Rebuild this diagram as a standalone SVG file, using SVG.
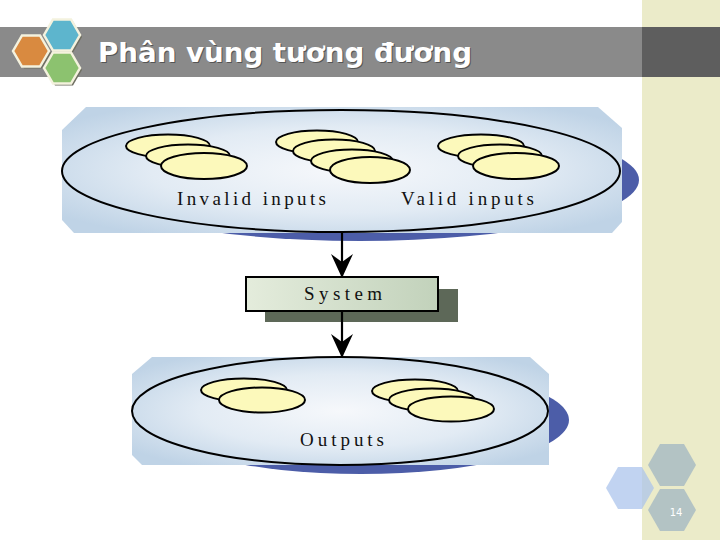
<svg xmlns="http://www.w3.org/2000/svg" width="720" height="540" viewBox="0 0 720 540">
<defs>
<style>
.title{font-family:"DejaVu Sans Condensed","DejaVu Sans","Liberation Sans",sans-serif;font-weight:bold;font-size:27px;}
.lbl{font-family:"Liberation Serif","Times New Roman",serif;font-size:19px;fill:#111;}
.pill{fill:#fcf9bb;stroke:#000;stroke-width:2;}
.outer{fill:none;stroke:#000;stroke-width:2;}
.shadow{fill:#4c5da8;}
.hexs{fill:#6f6f62;}
.hexw{stroke:#f4f2de;stroke-width:2.5;}
.conn{stroke:#000;stroke-width:2.2;fill:none;marker-end:url(#arr);}
</style>
<radialGradient id="bg" cx="50%" cy="50%" r="62%">
<stop offset="0" stop-color="#f6f8fb"/>
<stop offset="0.55" stop-color="#e2ebf4"/>
<stop offset="1" stop-color="#bfd3e6"/>
</radialGradient>
<linearGradient id="sys" x1="0" y1="0" x2="1" y2="0">
<stop offset="0" stop-color="#e4ecdc"/>
<stop offset="1" stop-color="#c2d2bb"/>
</linearGradient>
<marker id="arr" viewBox="0 0 24 24" refX="24" refY="12" markerWidth="24" markerHeight="24" markerUnits="userSpaceOnUse" orient="auto">
<path d="M0,1 L24,12 L0,23 L8,12 Z" fill="#000"/>
</marker>
</defs>

<rect x="0" y="0" width="720" height="540" fill="#ffffff"/>
<rect x="642" y="0" width="78" height="540" fill="#ebebc9"/>

<g id="title-bar">
<rect x="0" y="27" width="642" height="50" fill="#8a8a8a"/>
<rect x="642" y="27" width="78" height="50" fill="#5e5e5e"/>
<g id="logo">
<polygon class="hexs" points="15,53 24,37.4 42,37.4 51,53 42,68.6 24,68.6"/>
<polygon class="hexs" points="46,37 55,21.4 73,21.4 82,37 73,52.6 55,52.6"/>
<polygon class="hexs" points="46,70 55,54.4 73,54.4 82,70 73,85.6 55,85.6"/>
<polygon class="hexw" fill="#d98a40" points="13,51 22,35.4 40,35.4 49,51 40,66.6 22,66.6"/>
<polygon class="hexw" fill="#5db5cd" points="44,35 53,19.4 71,19.4 80,35 71,50.6 53,50.6"/>
<polygon class="hexw" fill="#8cc26f" points="44,68 53,52.4 71,52.4 80,68 71,83.6 53,83.6"/>
</g>
<text class="title" x="99" y="63" fill="#555555" textLength="374" lengthAdjust="spacingAndGlyphs">Phân vùng tương đương</text>
<text class="title" x="98" y="62" fill="#ffffff" textLength="374" lengthAdjust="spacingAndGlyphs">Phân vùng tương đương</text>
</g>

<g id="inputs">
<ellipse class="shadow" cx="360" cy="180" rx="279" ry="61"/>
<path d="M86,107 L598,107 L622,128 L622,222 L612,233 L74,233 L62,220 L62,130 Z" fill="url(#bg)"/>
<ellipse class="outer" cx="341" cy="171" rx="279" ry="61"/>
<ellipse class="pill" cx="168" cy="146" rx="42" ry="11.5"/>
<ellipse class="pill" cx="188" cy="156" rx="42" ry="11.5"/>
<ellipse class="pill" cx="204" cy="166" rx="43" ry="13"/>
<ellipse class="pill" cx="317" cy="142" rx="41" ry="11.5"/>
<ellipse class="pill" cx="334" cy="151" rx="41" ry="11.5"/>
<ellipse class="pill" cx="352" cy="161" rx="41" ry="11.5"/>
<ellipse class="pill" cx="370" cy="170" rx="40" ry="13"/>
<ellipse class="pill" cx="481" cy="146" rx="43" ry="11.5"/>
<ellipse class="pill" cx="500" cy="156" rx="42" ry="11.5"/>
<ellipse class="pill" cx="516" cy="166" rx="43" ry="13"/>
<text class="lbl" x="177" y="205" textLength="149" lengthAdjust="spacing">Invalid inputs</text>
<text class="lbl" x="401" y="205" textLength="133" lengthAdjust="spacing">Valid inputs</text>
</g>

<g id="system">
<rect x="265" y="289" width="193" height="33" fill="#5d6858"/>
<rect x="246" y="277" width="192" height="34" fill="url(#sys)" stroke="#000" stroke-width="2"/>
<text class="lbl" x="304" y="300" font-size="17" textLength="78" lengthAdjust="spacing">System</text>
</g>

<g id="outputs">
<ellipse class="shadow" cx="361" cy="420" rx="208" ry="54"/>
<path d="M152,357 L530,357 L549,374 L549,465 L142,465 L132,455 L132,374 Z" fill="url(#bg)"/>
<ellipse class="outer" cx="340" cy="411" rx="208" ry="54"/>
<ellipse class="pill" cx="244" cy="390" rx="43" ry="11.5"/>
<ellipse class="pill" cx="262" cy="400" rx="43" ry="12.5"/>
<ellipse class="pill" cx="415" cy="391" rx="43" ry="11.5"/>
<ellipse class="pill" cx="432" cy="400" rx="43" ry="11.5"/>
<ellipse class="pill" cx="451" cy="409" rx="43" ry="12.5"/>
<text class="lbl" x="300" y="446" font-size="17" textLength="84" lengthAdjust="spacing">Outputs</text>
</g>

<g id="connectors">
<line class="conn" x1="342" y1="233" x2="342" y2="278"/>
<line class="conn" x1="342" y1="311" x2="342" y2="358"/>
</g>

<g id="corner-deco">
<polygon fill="#b3c3c4" points="648,465 660,444 684,444 696,465 684,486 660,486"/>
<polygon fill="#b3c3c4" points="648,510 660,489 684,489 696,510 684,531 660,531"/>
<polygon fill="#a9c2ec" fill-opacity="0.72" points="606,488 618,467 642,467 654,488 642,509 618,509"/>
<text x="676" y="516" font-family="'DejaVu Sans','Liberation Sans',sans-serif" font-size="10" fill="#ffffff" text-anchor="middle">14</text>
</g>
</svg>
